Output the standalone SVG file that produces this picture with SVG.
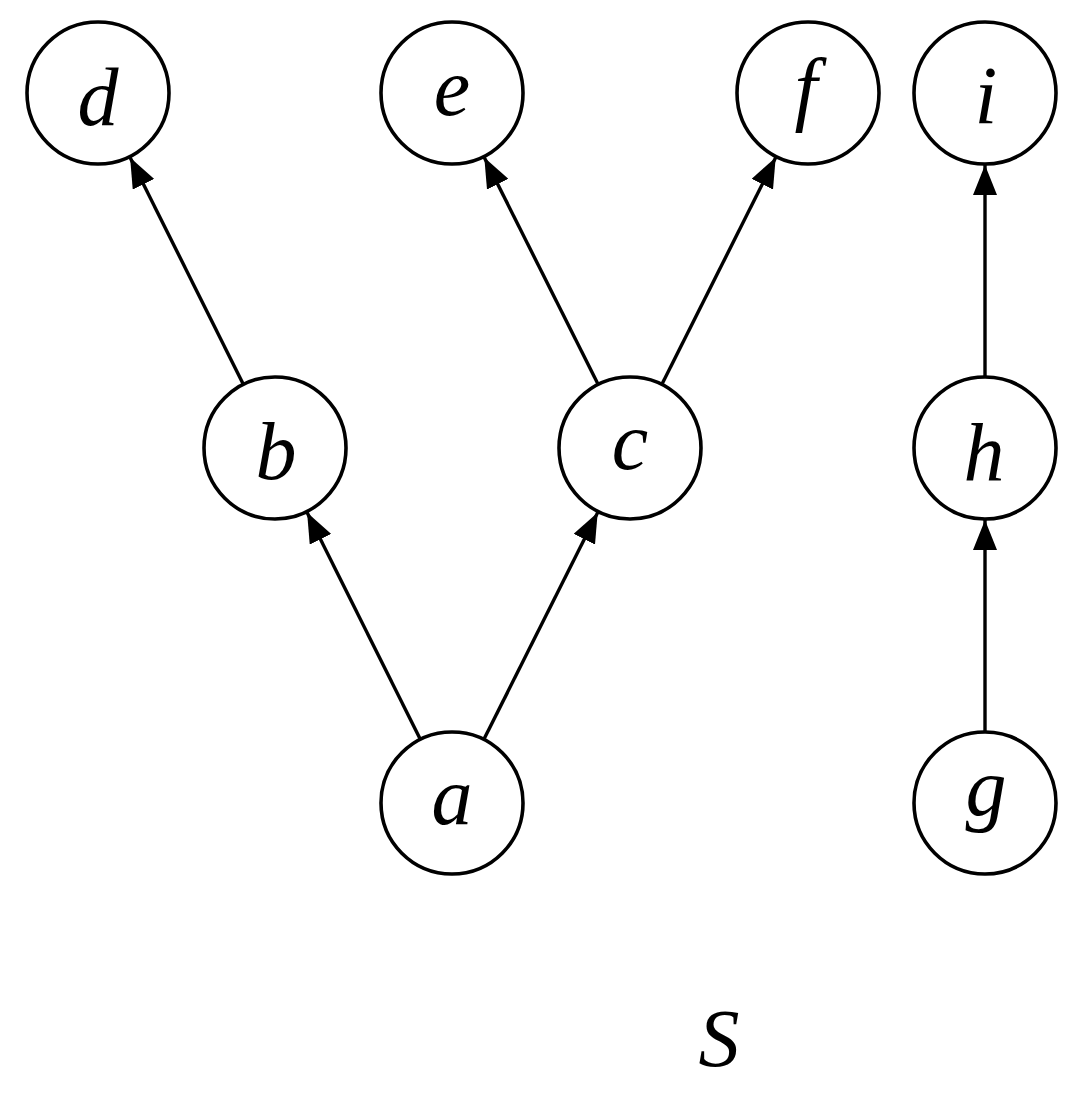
<svg xmlns="http://www.w3.org/2000/svg" width="1077" height="1104" viewBox="0 0 1077 1104">
<style>
.n{fill:#fff;stroke:#000;stroke-width:3.6}
.t{font-family:'Liberation Serif','Times New Roman',serif;font-style:italic;font-size:82px;text-anchor:middle;fill:#000}
.e{stroke:#000;stroke-width:3.4;fill:none;marker-end:url(#ah)}
</style>
<defs>
<marker id="ah" viewBox="0 0 30 24" refX="30" refY="12" markerWidth="30" markerHeight="24" orient="auto" markerUnits="userSpaceOnUse">
<path d="M0,0 L30,12 L0,24 Z" fill="#000"/>
</marker>
</defs>
<rect width="1077" height="1104" fill="#fff"/>
<g id="connectors">
<line class="e" x1="419.9" y1="738.6" x2="307.1" y2="512.4"/>
<line class="e" x1="484.3" y1="738.6" x2="597.7" y2="512.4"/>
<line class="e" x1="242.9" y1="383.6" x2="130.1" y2="157.4"/>
<line class="e" x1="597.7" y1="383.6" x2="484.3" y2="157.4"/>
<line class="e" x1="662.3" y1="383.6" x2="775.7" y2="157.4"/>
<line class="e" x1="985" y1="731" x2="985" y2="520"/>
<line class="e" x1="985" y1="376" x2="985" y2="165"/>
</g>
<g id="node-d"><circle class="n" cx="98" cy="93" r="71"/><text class="t" x="98" y="125">d</text></g>
<g id="node-e"><circle class="n" cx="452" cy="93" r="71"/><text class="t" x="452" y="115">e</text></g>
<g id="node-f"><circle class="n" cx="808" cy="93" r="71"/><text class="t" x="806" y="115">f</text></g>
<g id="node-i"><circle class="n" cx="985" cy="93" r="71"/><text class="t" x="986" y="123">i</text></g>
<g id="node-b"><circle class="n" cx="275" cy="448" r="71"/><text class="t" x="276" y="479">b</text></g>
<g id="node-c"><circle class="n" cx="630" cy="448" r="71"/><text class="t" x="630" y="469">c</text></g>
<g id="node-h"><circle class="n" cx="985" cy="448" r="71"/><text class="t" x="984" y="480">h</text></g>
<g id="node-a"><circle class="n" cx="452" cy="803" r="71"/><text class="t" x="452" y="824">a</text></g>
<g id="node-g"><circle class="n" cx="985" cy="803" r="71"/><text class="t" x="986" y="815">g</text></g>
<text class="t" x="719" y="1066" font-size="76">S</text>
</svg>
